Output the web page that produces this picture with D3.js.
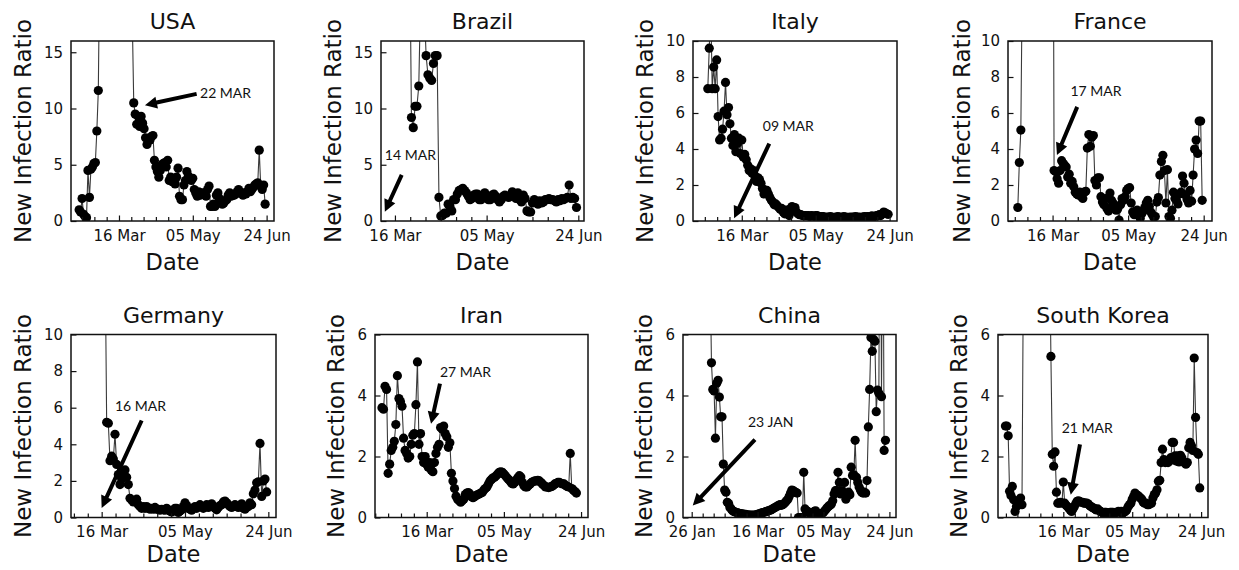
<!DOCTYPE html>
<html>
<head>
<meta charset="utf-8">
<script src="https://cdn.jsdelivr.net/npm/d3@7"></script>
<style>
  body { margin: 0; background: #fff; }
  svg { display: block; font-family: "DejaVu Sans", sans-serif; }
</style>
</head>
<body>
<script>
// ---------- DATA (day numbers are days after 1 Jan 2020) ----------
const countries = ["USA", "Brazil", "Italy", "France", "Germany", "Iran", "China", "South Korea"];

const usaStart = 48;
const usaValues = [
  1.0, 0.8, 2.0, 0.6, 0.4, 0.3, 4.5, 2.1, 4.6, 4.8, 5.1, 5.2, 8.0, 11.6,
  24, 31, 38, 45, 52, 47, 55, 60, 48, 42, 39, 35, 33, 30, 28, 26, 25, 23, 22, 21, 20, 19, 18,
  10.5, 9.5, 8.6, 9.3, 8.4, 9.3, 8.7, 8.2, 7.4, 6.8,
  7.3, 7.2, 7.5, 7.6, 5.4, 4.8, 4.4, 3.9, 4.5, 5.0,
  5.1, 5.2, 4.8, 5.4, 3.6, 3.9, 3.5, 3.6, 3.3, 3.9,
  4.7, 2.2, 1.9, 1.9, 3.2, 3.6, 4.4, 4.0, 3.8, 3.6,
  3.8, 2.8, 2.5, 2.2, 2.6, 2.3, 2.5, 2.4, 2.5, 2.2,
  2.8, 3.1, 1.3, 1.3, 1.5, 1.3, 2.3, 2.5, 2.0, 1.7,
  1.5, 1.6, 1.8, 1.9, 2.3, 2.5, 2.2, 2.3, 2.3, 2.4,
  2.6, 2.8, 2.5, 2.5, 2.3, 2.5, 2.4, 2.6, 2.9, 2.6,
  2.8, 3.0, 3.2, 3.3, 3.4, 6.3, 3.1, 2.8, 3.2, 1.5
];

const brazilStart = 76;
const brazilValues = [
  18, 22, 30, 40, 55, 48, 36, 26,
  9.2, 8.3, 10.2, 10.2, 12.0,
  20, 24, 19,
  14.7, 13.0, 12.7, 12.5, 14.0, 14.7, 14.7,
  2.1, 0.45, 0.5, 0.7, 0.7, 1.5, 1.3, 0.9, 1.9, 1.9,
  2.4, 2.7, 2.8, 2.9, 2.7, 2.5, 2.2, 1.9, 2.0, 2.3,
  2.4, 2.4, 1.9, 1.9, 2.3, 2.5, 2.1, 1.9, 1.9, 2.3,
  2.4, 2.2, 1.9, 1.7, 1.9, 2.2, 2.3, 2.2, 2.1, 2.2,
  2.6, 2.2, 2.0, 2.5, 1.9, 1.7, 2.3, 2.0,
  0.9, 0.8, 0.8, 1.6, 1.9, 1.7, 1.5, 1.8, 1.6, 1.7,
  1.9, 1.9, 2.0, 1.9, 1.9, 1.8, 1.7, 1.9, 1.8, 2.0,
  1.9, 2.0, 2.1, 3.2, 2.0, 2.1, 2.0, 1.2
];

const italyStart = 52;
const italyValues = [
  7.35, 9.6, 12, 7.35, 8.55, 7.35, 8.95, 5.8, 4.5, 4.6,
  5.1, 6.1, 7.7, 5.9, 6.3, 5.4, 4.6, 4.2, 4.8, 3.85,
  4.3, 4.6, 3.75, 4.5, 3.55, 3.7, 3.4, 3.1, 2.8, 2.9,
  2.65, 2.8, 2.5, 2.2, 2.4, 2.3, 2.1, 1.8, 1.5, 1.7,
  1.7, 1.5, 1.3, 1.15, 1.05, 0.9, 0.95, 0.85, 0.75, 0.65,
  0.7, 0.5, 0.4, 0.6, 0.45, 0.3,
  0.7, 0.8, 0.6, 0.75, 0.5, 0.4, 0.35, 0.35, 0.3, 0.3,
  0.3, 0.28, 0.3, 0.25, 0.3, 0.28, 0.25, 0.3, 0.3, 0.25,
  0.22, 0.25, 0.25, 0.2, 0.22, 0.2, 0.22, 0.25, 0.2, 0.2,
  0.2, 0.22, 0.25, 0.22, 0.2, 0.2, 0.25, 0.22, 0.2, 0.2,
  0.2, 0.22, 0.2, 0.22, 0.25, 0.2, 0.22, 0.2, 0.2, 0.22,
  0.25, 0.22, 0.25, 0.22, 0.25, 0.28, 0.25, 0.25, 0.3, 0.3,
  0.35, 0.3, 0.4, 0.5, 0.45, 0.4, 0.37
];

const franceStart = 52;
const franceValues = [
  0.75, 3.25, 5.05,
  14, 22, 30, 35, 40, 45, 50, 44, 38, 33, 30, 28, 25, 22, 20, 18, 17, 19, 21, 24, 30,
  2.8, 2.75, 2.35, 2.1, 2.8, 3.35, 3.2, 3.1, 3.0, 2.45,
  2.6, 2.1, 2.2, 1.9, 1.6, 1.5, 1.45, 1.6, 1.35, 1.25, 1.6, 1.65,
  4.05, 4.8, 4.15, 4.65, 4.75, 2.25, 2.0, 2.4, 2.4, 1.35,
  1.05, 0.9, 1.25, 0.7, 0.55, 1.55, 1.15, 1.0, 0.7, 0.6,
  0.65, 0.05, 0.9, 1.25, 1.15, 1.35, 1.7, 1.8, 1.85, 1.0,
  0.5, 0.35, 0.55, 0.6, 0.5, 0.15, 0.4, 0.55, 0.75, 1.0,
  1.15, 0.8, 0.5, 0.35, 0.2, 0.25, 1.05, 1.3, 2.55, 3.3,
  3.65, 2.8, 1.0, 2.85, 0.25, 0.15, 0.6, 1.6, 1.25, 1.15,
  0.95, 1.5, 1.6, 2.5, 2.1, 1.45, 1.2, 1.0, 1.7, 1.1,
  2.55, 4.0, 4.5, 3.75, 5.55, 5.55, 1.15
];

const germanyStart = 70;
const germanyValues = [
  14, 20, 28, 35, 30, 25, 20, 15,
  5.2, 5.15, 3.1, 3.35, 3.2, 4.55, 2.9, 2.35, 1.8, 2.1, 2.25, 2.6, 2.2, 1.8, 1.05, 0.95, 0.85, 0.9, 1.0, 0.7, 0.6, 0.5,
  0.6, 0.5, 0.6, 0.5, 0.45, 0.5, 0.45, 0.55, 0.45, 0.45,
  0.4, 0.45, 0.42, 0.4, 0.5, 0.42, 0.35, 0.3, 0.4, 0.5,
  0.5, 0.28, 0.35, 0.42, 0.6, 0.8, 0.65, 0.5, 0.45, 0.4,
  0.5, 0.6, 0.5, 0.6, 0.7, 0.6, 0.5, 0.6, 0.7, 0.55,
  0.65, 0.75, 0.6, 0.5, 0.42, 0.55, 0.65, 0.7, 0.85, 0.9,
  0.8, 0.7, 0.6, 0.55, 0.6, 0.7, 0.6, 0.55, 0.65, 0.75, 0.5, 0.45, 0.55, 0.6,
  0.8, 0.7, 1.3, 1.5, 1.9, 1.95, 4.05, 1.15, 2.0, 2.1, 1.4
];

const iranStart = 46;
const iranValues = [
  3.6, 3.55, 4.3, 4.2, 1.45, 1.75, 2.2, 2.3, 2.5, 3.05,
  4.65, 3.9, 3.8, 3.65, 2.6, 2.2, 2.1, 1.95, 2.0, 2.4,
  2.7, 2.75, 3.7, 5.1, 2.4, 2.75, 2.0, 1.8, 2.0, 1.75,
  1.65, 1.8, 1.55, 1.5, 1.8, 2.1, 2.3, 2.4, 2.95, 2.9,
  3.0, 2.75, 2.65, 2.3, 2.45, 1.45, 1.2, 0.95, 0.7, 0.6,
  0.55, 0.5, 0.55, 0.6, 0.75, 0.8, 0.82, 0.77, 0.68, 0.65,
  0.68, 0.72, 0.75, 0.77, 0.8, 0.82, 0.9, 0.95, 1.0, 1.1,
  1.2, 1.25, 1.3, 1.32, 1.37, 1.43, 1.48, 1.5, 1.48, 1.43,
  1.37, 1.3, 1.25, 1.2, 1.12, 1.1, 1.15, 1.23, 1.3, 1.37,
  1.33, 1.15, 1.04, 1.0, 1.0, 1.05, 1.1, 1.15, 1.18, 1.2,
  1.2, 1.22, 1.2, 1.15, 1.1, 1.05, 1.0, 1.0, 0.98, 1.0,
  1.02, 1.05, 1.1, 1.12, 1.15, 1.15, 1.12, 1.1, 1.1, 1.05,
  1.02, 1.0, 2.1, 0.95, 0.9, 0.85, 0.8
];

const chinaStart = 22;
const chinaValues = [
  15, 25, 40, 60, 80, 100, 90, 75, 60, 50, 40, 32, 25, 20, 16, 13, 10, 8,
  5.07, 4.2, 4.15, 2.6, 4.4, 4.5, 3.95, 3.3, 3.3, 1.75,
  0.9, 0.83, 0.5, 0.46, 0.33, 0.28, 0.22, 0.2, 0.18, 0.16,
  0.15, 0.14, 0.13, 0.12, 0.11, 0.1, 0.1, 0.09, 0.08, 0.08,
  0.08, 0.07, 0.08, 0.08, 0.09, 0.1, 0.12, 0.13, 0.15, 0.16,
  0.17, 0.19, 0.2, 0.22, 0.23, 0.25, 0.27, 0.3, 0.32, 0.35,
  0.37, 0.4, 0.42, 0.4, 0.42, 0.45, 0.5, 0.55, 0.6, 0.7,
  0.8, 0.9, 0.88, 0.85, 0.82, 0.8, 0, 0, 0, 0,
  1.48, 0.28, 0.22, 0.2, 0.17, 0.12, 0.1, 0.15, 0.2, 0.22,
  0.13, 0.1, 0.09, 0.12, 0.13, 0.17, 0.22, 0.28, 0.33, 0.38,
  0.4, 0.44, 0.55, 0.77, 0.88, 0.88, 1.48, 1.15, 0.77, 0.88,
  0.77, 1.15, 0.6, 0.77, 0.83, 0.75, 1.65, 1.38, 1.4, 2.53,
  1.32, 1.15, 1.0, 0.9, 0.83, 0.8, 0.83, 0.8, 1.21, 2.97,
  4.2, 5.9, 5.45, 5.84, 5.78, 3.47, 4.18, 4.07, 14, 3.96,
  12, 2.2, 2.53
];

const koreaStart = 33;
const koreaValues = [
  3.0, 3.0, 2.68, 0.86, 0.72, 1.02, 0.58, 0.2, 0.36, 0.5, 0.42, 0.64, 0.42,
  8, 12, 18, 25, 30, 35, 40, 38, 34, 30, 26, 22, 20, 18, 16, 14, 12, 11, 10, 9,
  5.28, 2.07, 1.68, 2.15, 0.83, 0.47, 0.47, 0.5, 0.47, 1.16,
  0.47, 0.4, 0.36, 0.3, 0.25, 0.2, 0.28, 0.36, 0.45, 0.53,
  0.55, 0.52, 0.5, 0.5, 0.47, 0.47, 0.47, 0.45, 0.39, 0.36,
  0.33, 0.31, 0.28, 0.25, 0.28, 0.23, 0.2, 0.17, 0.14, 0.17,
  0.17, 0.14, 0.14, 0.17, 0.17, 0.17, 0.14, 0.17, 0.17, 0.2,
  0.17, 0.2, 0.14, 0.17, 0.2, 0.25, 0.35, 0.42, 0.47, 0.6,
  0.69, 0.8, 0.75, 0.72, 0.68, 0.64, 0.6, 0.5, 0.47, 0.47,
  0.42, 0.42, 0.45, 0.47, 0.64, 0.75, 0.8, 0.91, 1.19, 1.22,
  1.8, 2.24, 1.9, 1.8, 1.85, 1.8, 1.85, 1.96, 2.46, 2.46,
  2.02, 1.85, 2.02, 1.82, 2.04, 1.96, 1.82, 1.8, 1.75, 1.8,
  2.29, 2.46, 2.35, 2.2, 5.23, 3.28, 2.13, 2.07, 0.97
];

const starts = [usaStart, brazilStart, italyStart, franceStart, germanyStart, iranStart, chinaStart, koreaStart];
const series = [usaValues, brazilValues, italyValues, franceValues, germanyValues, iranValues, chinaValues, koreaValues];

// axis settings
const yMaxes = [16, 16, 10, 10, 10, 6, 6, 6];
const yTickValues = [[0,5,10,15],[0,5,10,15],[0,2,4,6,8,10],[0,2,4,6,8,10],[0,2,4,6,8,10],[0,2,4,6],[0,2,4,6],[0,2,4,6]];
const xDomains = [[42.5,180],[67.4,178.1],[42,180],[45.5,180.5],[56.6,179.6],[41.5,179.5],[18.4,180],[27.6,180]];
const majorTickDays = [[75,125,175],[75,125,175],[75,125,175],[75,125,175],[75,125,175],[75,125,175],[25,75,125,175],[75,125,175]];

// annotations: label and arrow (day, value)
const noteLabels = ["22 MAR", "14 MAR", "09 MAR", "17 MAR", "16 MAR", "27 MAR", "23 JAN", "21 MAR"];
const noteText  = [[129.9,10.9],[69.5,5.4],[89.2,5.0],[86.8,6.97],[83,5.8],[83.6,4.6],[67.7,2.98],[73.8,2.78]];
const noteFrom  = [[127.6,11.3],[78.7,4.1],[93.6,4.3],[91.3,6.34],[99,5.3],[83.6,4.39],[73,2.55],[87.1,2.4]];
const noteTo    = [[92.6,10.3],[69.5,0.83],[69.8,0.15],[77.9,3.66],[75,0.52],[77.8,3.07],[25.8,0.39],[80.4,0.75]];

// ---------- LAYOUT ----------
const W = 1239, H = 570;
const rowTop = [41, 334.5], rowBottom = [221, 517.5];
const colLeft  = [[71, 381, 693, 1008], [71, 375, 683, 998]];
const colRight = [[274, 584, 897, 1212], [276, 588, 896, 1208]];
const yLabelOffset = [40, 40, 40, 38, 40, 31, 31, 31];
const dateBaseline = [270, 562];

const DAY = 864e5, BASE = Date.UTC(2020, 0, 1);
const toDate = d => new Date(BASE + d * DAY);

const svg = d3.select("body").append("svg").attr("width", W).attr("height", H);
const defs = svg.append("defs");

countries.forEach((name, i) => {
  const row = Math.floor(i / 4), col = i % 4;
  const top = rowTop[row], bottom = rowBottom[row];
  const left = colLeft[row][col], right = colRight[row][col];

  const x = d3.scaleUtc().domain(xDomains[i].map(toDate)).range([left, right]);
  const y = d3.scaleLinear().domain([0, yMaxes[i]]).range([bottom, top]);

  const pts = series[i].map((v, k) => ({ date: toDate(starts[i] + k), v }));

  const clipId = "clip" + i;
  defs.append("clipPath").attr("id", clipId)
    .append("rect").attr("x", left).attr("y", top).attr("width", right - left).attr("height", bottom - top);

  const g = svg.append("g");
  const plot = g.append("g").attr("clip-path", `url(#${clipId})`);

  plot.append("path")
    .datum(pts)
    .attr("fill", "none")
    .attr("stroke", "#3a3a3a")
    .attr("stroke-width", 1.1)
    .attr("d", d3.line().x(d => x(d.date)).y(d => y(d.v)));

  plot.selectAll("circle").data(pts.filter(d => d.v <= yMaxes[i] * 1.1)).join("circle")
    .attr("cx", d => x(d.date))
    .attr("cy", d => y(d.v))
    .attr("r", 4.6)
    .attr("fill", "#000");

  // minor ticks (6 per major interval)
  const majors = majorTickDays[i];
  const minorDays = [];
  for (let k = -40; k <= 40; k++) {
    const d = 75 + k * 50 / 6;
    if (d >= xDomains[i][0] && d <= xDomains[i][1] && k % 6 !== 0) minorDays.push(d);
  }

  const xMinor = g.append("g").attr("transform", `translate(0,${bottom})`)
    .call(d3.axisBottom(x).tickValues(minorDays.map(toDate)).tickSize(-4).tickFormat(""));
  xMinor.select(".domain").remove();

  const xAxis = g.append("g").attr("transform", `translate(0,${bottom})`)
    .call(d3.axisBottom(x).tickValues(majors.map(toDate)).tickSize(-5.5).tickPadding(9)
      .tickFormat(d3.utcFormat("%d %b")));
  xAxis.select(".domain").remove();
  xAxis.selectAll("text").attr("font-size", 15).attr("font-family", "DejaVu Sans").attr("fill", "#111");

  const yAxis = g.append("g").attr("transform", `translate(${left},0)`)
    .call(d3.axisLeft(y).tickValues(yTickValues[i]).tickSize(-5.5).tickPadding(8)
      .tickFormat(d3.format("d")));
  yAxis.select(".domain").remove();
  yAxis.selectAll("text").attr("font-size", 15).attr("font-family", "DejaVu Sans").attr("fill", "#111");

  g.selectAll(".tick line").attr("stroke", "#111").attr("stroke-width", 1.2);

  // frame
  g.append("rect").attr("x", left).attr("y", top).attr("width", right - left).attr("height", bottom - top)
    .attr("fill", "none").attr("stroke", "#111").attr("stroke-width", 1.5);

  // title
  g.append("text").attr("x", (left + right) / 2).attr("y", top - 12)
    .attr("text-anchor", "middle").attr("font-size", 22).attr("fill", "#111").text(name);

  // axis labels
  g.append("text").attr("x", (left + right) / 2).attr("y", dateBaseline[row])
    .attr("text-anchor", "middle").attr("font-size", 22.5).attr("fill", "#111").text("Date");

  g.append("text")
    .attr("transform", `translate(${left - yLabelOffset[i]},${(top + bottom) / 2}) rotate(-90)`)
    .attr("text-anchor", "middle").attr("font-size", 23).attr("fill", "#111").text("New Infection Ratio");

  // annotation
  const tx = x(toDate(noteText[i][0])), ty = y(noteText[i][1]);
  g.append("text").attr("x", tx).attr("y", ty)
    .attr("font-family", "Lato, 'Open Sans', sans-serif").attr("font-size", 14).attr("fill", "#111")
    .text(noteLabels[i]);

  const x1 = x(toDate(noteFrom[i][0])), y1 = y(noteFrom[i][1]);
  const x2 = x(toDate(noteTo[i][0])), y2 = y(noteTo[i][1]);
  const len = Math.hypot(x2 - x1, y2 - y1);
  const ux = (x2 - x1) / len, uy = (y2 - y1) / len;
  const nx = -uy, ny = ux;
  const sw = 2, hw = 6, hl = 12;
  const bx = x2 - ux * hl, by = y2 - uy * hl;
  const poly = [
    [x1 + nx * sw, y1 + ny * sw],
    [bx + nx * sw, by + ny * sw],
    [bx + nx * hw, by + ny * hw],
    [x2, y2],
    [bx - nx * hw, by - ny * hw],
    [bx - nx * sw, by - ny * sw],
    [x1 - nx * sw, y1 - ny * sw]
  ];
  g.append("polygon").attr("points", poly.map(p => p.join(",")).join(" ")).attr("fill", "#000");
});
</script>
</body>
</html>
